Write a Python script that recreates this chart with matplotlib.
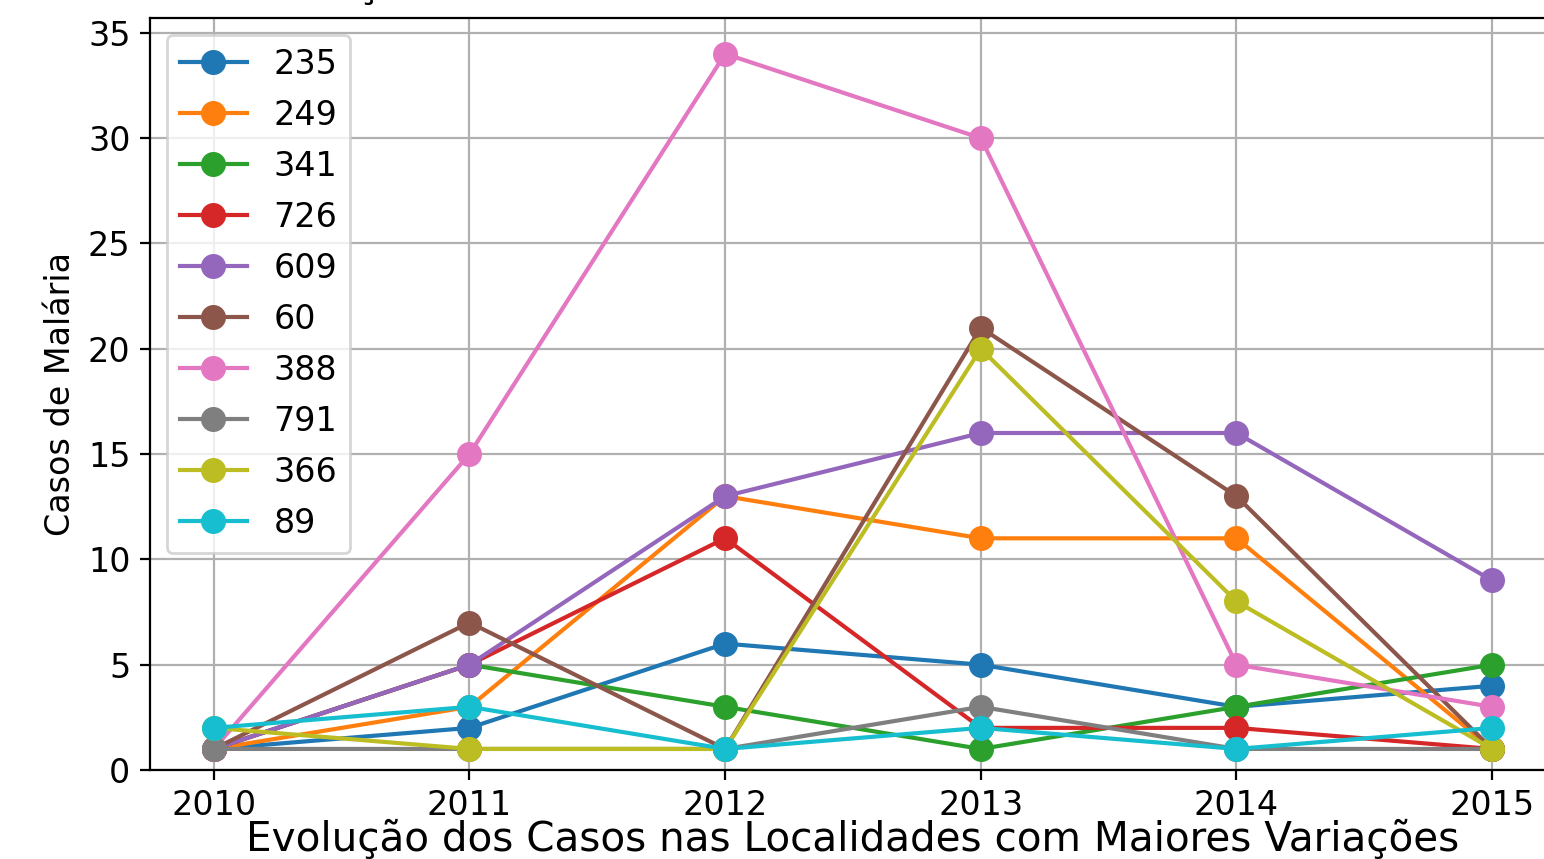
import matplotlib
matplotlib.use("Agg")
import matplotlib.pyplot as plt

anos = [2010, 2011, 2012, 2013, 2014, 2015]

localidades = ["235", "249", "341", "726", "609", "60", "388", "791", "366", "89"]

casos_235 = [1, 2, 6, 5, 3, 4]
casos_249 = [1, 3, 13, 11, 11, 1]
casos_341 = [1, 5, 3, 1, 3, 5]
casos_726 = [1, 5, 11, 2, 2, 1]
casos_609 = [1, 5, 13, 16, 16, 9]
casos_60 = [1, 7, 1, 21, 13, 1]
casos_388 = [1, 15, 34, 30, 5, 3]
casos_791 = [1, 1, 1, 3, 1, 1]
casos_366 = [2, 1, 1, 20, 8, 1]
casos_89 = [2, 3, 1, 2, 1, 2]

series = [casos_235, casos_249, casos_341, casos_726, casos_609,
          casos_60, casos_388, casos_791, casos_366, casos_89]

titulo = "Evolução dos Casos nas Localidades com Maiores Variações"

fig = plt.figure(figsize=(7.72, 4.295), dpi=200)
ax = fig.add_axes([0.0971, 0.1036, 0.9107, 0.8754])

for nome, valores in zip(localidades, series):
    ax.plot(anos, valores, marker="o", markersize=8, linewidth=1.5, label=nome)

ax.set_ylim(0, 35.7)
ax.set_xlim(2009.75, 2015.25)
ax.set_xticks(anos)
ax.tick_params(axis="both", labelsize=12)
ax.grid(True)

ax.set_ylabel("Casos de Malária", fontsize=12)
ax.set_xlabel(titulo, fontsize=14.6, labelpad=-1)

# the picture is cropped at the top: only the cedilla of a line above shows
fig.text(245 / 1544, 1.0033, "Evolução dos Casos", fontsize=14.6,
         ha="left", va="baseline")

ax.legend(loc="upper left", fontsize=12, labelspacing=0.54)

fig.savefig("out.png", dpi=200)
